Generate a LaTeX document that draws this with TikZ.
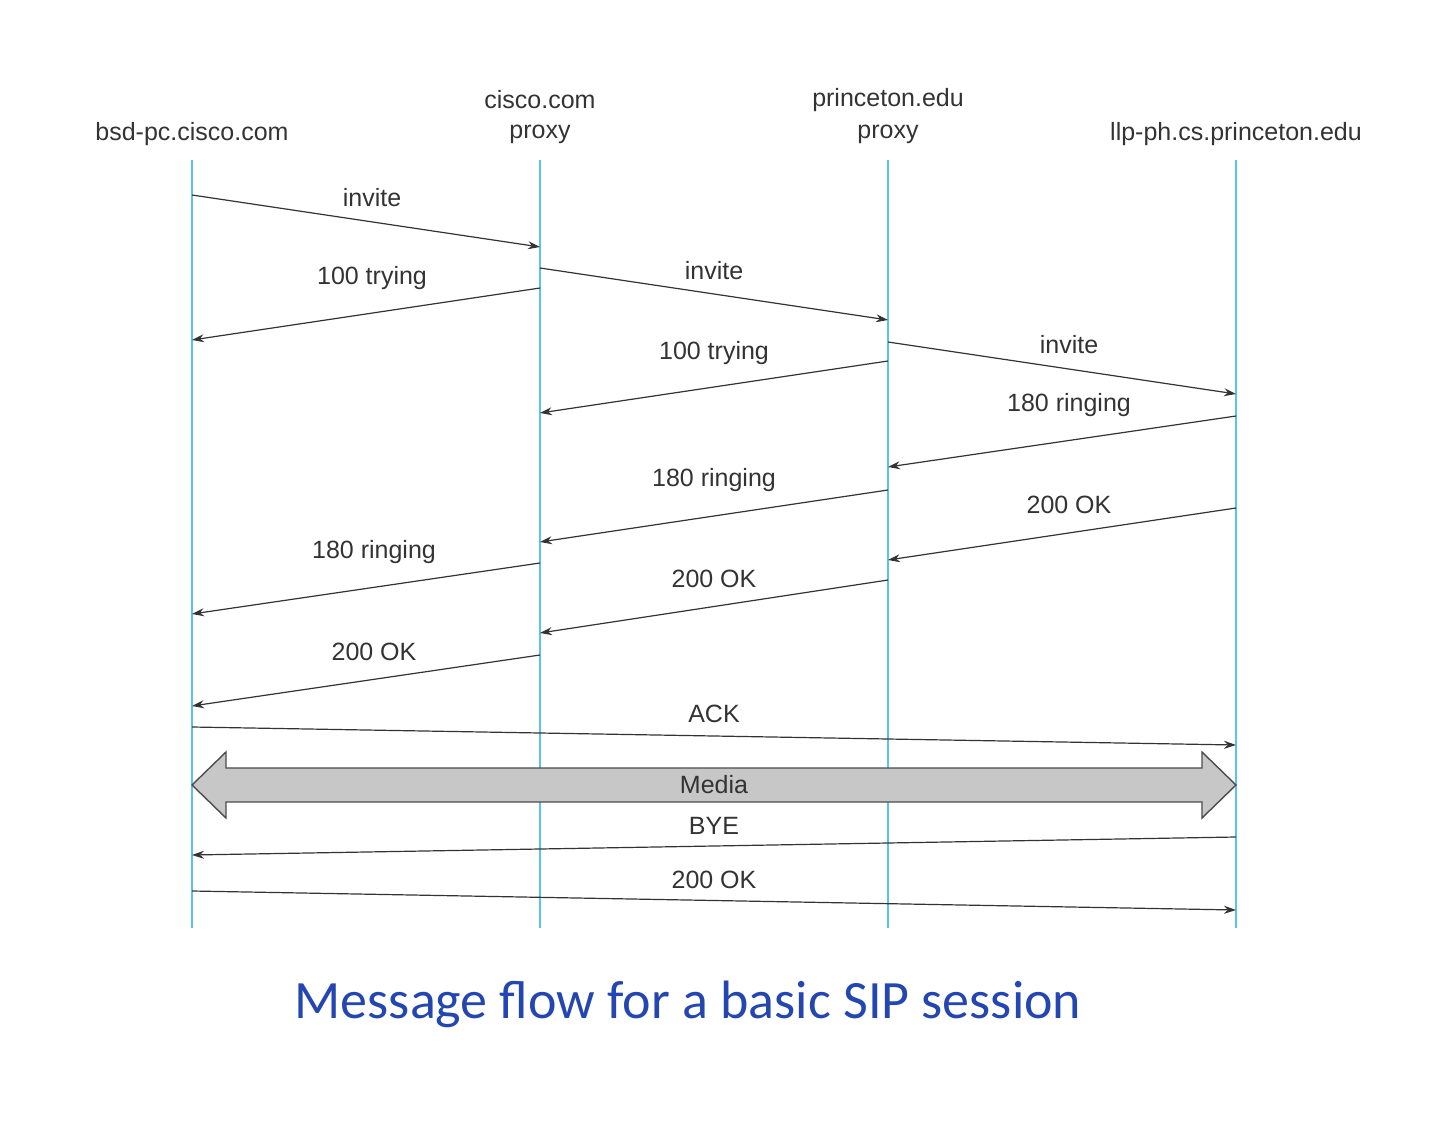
\documentclass[tikz,border=0pt]{standalone}
\usepackage{fontspec}
\setmainfont{Liberation Sans}
\newfontfamily\capfont{Carlito}
\usetikzlibrary{arrows.meta}
\definecolor{life}{HTML}{5BC3EE}
\definecolor{txt}{HTML}{333333}
\definecolor{capblue}{HTML}{2446B0}
\tikzset{x=0.5pt,y=-0.5pt,
 lifeline/.style={draw=life,line width=0.9pt},
 msg/.style={draw=black!80,line width=0.6pt,-{Stealth[length=6pt,width=4pt]}},
 lbl/.style={text=txt,font=\fontsize{12.5}{14}\selectfont,inner sep=0pt},
 hdr/.style={text=txt,font=\fontsize{12.5}{14}\selectfont,inner sep=0pt,align=center}}
\begin{document}
\begin{tikzpicture}
\useasboundingbox (0,0) rectangle (1440,1134);
\foreach \n/\x in {A/192,B/540,C/888,D/1236}{
  \coordinate (\n top) at (\x,160);
  \coordinate (\n bot) at (\x,928);
  \draw[lifeline] (\n top) -- (\n bot);
}
\node[hdr] (hA) at (192,134) {bsd-pc.cisco.com};
\node[hdr] (hB1) at (540,100) {cisco.com};
\node[hdr] (hB2) at (540,134) {proxy};
\node[hdr] (hC1) at (888,100) {princeton.edu};
\node[hdr] (hC2) at (888,134) {proxy};
\node[hdr] (hD) at (1236,134) {llp-ph.cs.princeton.edu};
\foreach \i/\xa/\ya/\xb/\yb/\lx/\ly/\t in {
 1/192/195/540/247/372/198/invite,
 2/540/288/192/340/372/278/100 trying,
 3/540/268/888/320/714/271/invite,
 4/888/361/540/413/714/353/100 trying,
 5/888/342/1236/394/1069/345/invite,
 6/1236/416/888/467/1069/405/180 ringing,
 7/888/490/540/542/714/480/180 ringing,
 8/1236/508/888/560/1069/505/200 OK,
 9/540/563/192/614/374/552/180 ringing,
 10/888/580/540/633/714/579/200 OK,
 11/540/655/192/706/374/652/200 OK,
 12/192/727/1236/745/714/714/ACK,
 13/1236/837/192/855/714/826/BYE,
 14/192/891/1236/910/714/880/200 OK}{
  \coordinate (s\i) at (\xa,\ya);
  \coordinate (e\i) at (\xb,\yb);
  \draw[msg] (s\i) -- (e\i);
  \node[lbl] (l\i) at (\lx,\ly) {\t};
}
\draw[draw=black!70,fill=black!22,line width=0.7pt]
 (192,785) -- (226,752) -- (226,768) -- (1202,768) -- (1202,752) -- (1236,785)
 -- (1202,818) -- (1202,802) -- (226,802) -- (226,818) -- cycle;
\node[lbl] (media) at (714,785) {Media};
\node[text=capblue,font=\capfont\fontsize{27}{30}\selectfont,inner sep=0pt] (cap) at (688,1004) {Message flow for a basic SIP session};
\end{tikzpicture}
\end{document}
